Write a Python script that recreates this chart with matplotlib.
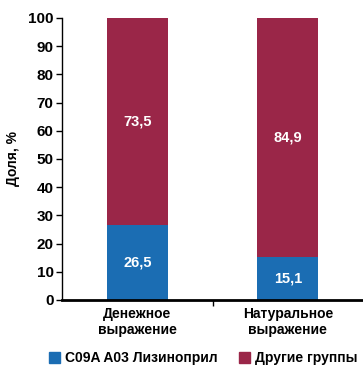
import matplotlib

matplotlib.use("Agg")
import matplotlib.pyplot as plt
from matplotlib.patches import Patch

plt.rcParams["font.family"] = ["Liberation Sans Narrow", "Liberation Sans", "DejaVu Sans"]
plt.rcParams["font.weight"] = "bold"

categories = ["Денежное\nвыражение", "Натуральное\nвыражение"]
lisinopril = [26.5, 15.1]
other = [73.5, 84.9]
series_names = ["C09A A03 Лизиноприл", "Другие группы"]

BLUE = "#1b6db3"
RED = "#9a2648"

fig = plt.figure(figsize=(3.63, 3.74), dpi=100)
ax = fig.add_axes([0.171, 0.198, 0.829, 0.754])

x = list(range(len(categories)))
ax.bar(x, lisinopril, width=0.405, color=BLUE)
ax.bar(x, other, width=0.405, bottom=lisinopril, color=RED)

for i in x:
    ax.text(i, lisinopril[i] / 2, f"{lisinopril[i]:.1f}".replace(".", ","),
            ha="center", va="center", color="white", fontsize=10.5, fontweight="bold")
    ax.text(i, lisinopril[i] + other[i] / 2, f"{other[i]:.1f}".replace(".", ","),
            ha="center", va="center", color="white", fontsize=10.5, fontweight="bold")

ax.set_xlim(-0.5, 1.5)
ax.set_ylim(0, 100)
ax.set_yticks(range(0, 101, 10))
ax.tick_params(axis="y", labelsize=11, length=4, width=1, pad=2)
ax.set_xticks([0.5])
ax.set_xticklabels([""])
ax.tick_params(axis="x", length=4, width=1)
ax.set_xticks(x, minor=True)
ax.set_xticklabels(categories, minor=True, fontsize=10, fontweight="bold")
ax.tick_params(axis="x", which="minor", length=0, pad=5)

for s in ["top", "right"]:
    ax.spines[s].set_visible(False)
ax.spines["bottom"].set_linewidth(2)
ax.spines["left"].set_linewidth(1)

ax.set_ylabel("Доля, %", fontsize=10, fontweight="bold", labelpad=6)

handles = [Patch(color=BLUE), Patch(color=RED)]
fig.legend(handles, series_names, loc="lower center", ncol=2, frameon=False,
           bbox_to_anchor=(0.56, -0.01), fontsize=10, handlelength=0.8,
           handleheight=0.8, handletextpad=0.4, columnspacing=1.5)

fig.savefig("out.png", dpi=100)
